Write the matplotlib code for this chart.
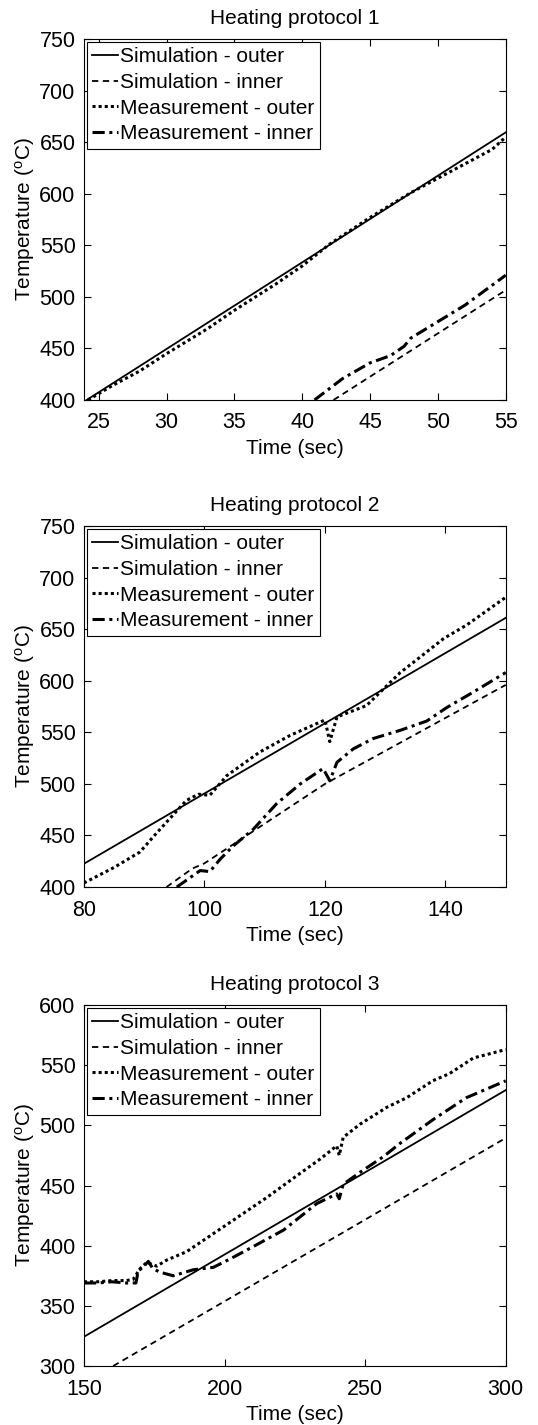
import numpy as np
import matplotlib.pyplot as plt

plt.rcParams['font.family'] = ['Liberation Sans', 'DejaVu Sans']
plt.rcParams['mathtext.default'] = 'regular'

# ---- protocol 1 ----
p1_sim_out_t = [24.1, 55]
p1_sim_out_T = [400, 659.5]
p1_sim_in_t = [42.3, 55]
p1_sim_in_T = [400, 506.5]
p1_meas_out_t = [24.2, 26, 28, 30, 33, 35, 38, 40, 42, 45, 48, 50, 52, 54, 55]
p1_meas_out_T = [400, 414, 428, 445, 469, 487, 512, 530, 551, 577, 601, 615, 629, 643, 655]
p1_meas_in_t = [40.9, 43, 45, 46.5, 47.5, 48, 50, 52, 55]
p1_meas_in_T = [400, 421, 436, 443, 452, 460, 476, 492, 521]

# ---- protocol 2 ----
p2_sim_out_t = [80, 150]
p2_sim_out_T = [422.6, 661]
p2_sim_in_t = [93.7, 98, 100, 120, 150]
p2_sim_in_T = [400, 418, 423, 500, 596]
p2_meas_out_t = [80, 85, 89.3, 92, 97, 99, 100.9, 103.7, 109.2, 114.2, 119.2, 120, 120.8, 122,
                 126.9, 129.7, 132.5, 135.8, 139.7, 143.5, 150]
p2_meas_out_T = [404, 419, 434, 452, 484, 490, 489, 508, 531, 547, 560, 562, 541, 565,
                 576, 592, 608, 623, 641, 654, 681]
p2_meas_in_t = [95.4, 99.3, 100.9, 102.6, 104.8, 108.1, 112, 115.9, 119.7, 120.8, 122,
                124.7, 128, 132.5, 136.9, 140.2, 144.6, 150]
p2_meas_in_T = [400, 416, 415, 427, 440, 456, 481, 500, 515, 503, 521,
                534, 544, 552, 561, 574, 589, 608]

# ---- protocol 3 ----
p3_sim_out_t = [150, 300]
p3_sim_out_T = [324.3, 529.3]
p3_sim_in_t = [160.4, 300]
p3_sim_in_T = [300, 489.5]
p3_meas_out_t = [150, 155, 160, 165, 167.5, 170, 172.3, 175.9, 179.4, 186.5, 196, 203, 215, 226.8,
                 234, 239.9, 240.8, 242.2, 248.2, 257.7, 264.8, 274, 280, 288.5, 300]
p3_meas_out_T = [370, 370, 371, 371, 372, 381, 386, 383, 388, 395, 410, 421, 440, 460,
                 472, 483, 475, 490, 501, 515, 523, 537, 543, 556, 563]
p3_meas_in_t = [150, 155, 160, 165, 168.5, 169.3, 171, 172.9, 174.5, 177, 181.8, 188.9, 196,
                202, 210, 221, 232.8, 239.9, 240.8, 242.2, 248.2, 256.5, 262.4, 274.3, 286, 300]
p3_meas_in_T = [369, 369, 370, 369, 369, 379, 382, 387, 381, 378, 375, 380, 382,
                389, 399, 413, 435, 443, 439, 451, 461, 474, 485, 505, 523, 537]

panels = [
    dict(title='Heating protocol 1', xlim=(23.9, 55), ylim=(400, 750),
         xticks=np.arange(25, 56, 5), yticks=np.arange(400, 751, 50),
         data=[(p1_sim_out_t, p1_sim_out_T), (p1_sim_in_t, p1_sim_in_T),
               (p1_meas_out_t, p1_meas_out_T), (p1_meas_in_t, p1_meas_in_T)]),
    dict(title='Heating protocol 2', xlim=(80, 150), ylim=(400, 750),
         xticks=np.arange(80, 141, 20), yticks=np.arange(400, 751, 50),
         data=[(p2_sim_out_t, p2_sim_out_T), (p2_sim_in_t, p2_sim_in_T),
               (p2_meas_out_t, p2_meas_out_T), (p2_meas_in_t, p2_meas_in_T)]),
    dict(title='Heating protocol 3', xlim=(150, 300), ylim=(300, 600),
         xticks=np.arange(150, 301, 50), yticks=np.arange(300, 601, 50),
         data=[(p3_sim_out_t, p3_sim_out_T), (p3_sim_in_t, p3_sim_in_T),
               (p3_meas_out_t, p3_meas_out_T), (p3_meas_in_t, p3_meas_in_T)]),
]

labels = ['Simulation - outer', 'Simulation - inner', 'Measurement - outer', 'Measurement - inner']
styles = [dict(ls='-', lw=1.3), dict(ls=(0, (3.5, 2.5)), lw=1.3),
          dict(ls=(0, (1, 1)), lw=2.2), dict(ls=(0, (4, 1.5, 1, 1.5)), lw=2.2)]

fig = plt.figure(figsize=(5.38, 14.25), dpi=100)
bottoms = [0.7193, 0.3775, 0.0414]

for p, b in zip(panels, bottoms):
    ax = fig.add_axes([0.156, b, 0.784, 0.2533])
    for (t, T), lab, st in zip(p['data'], labels, styles):
        ax.plot(t, T, color='black', label=lab, **st)
    ax.set_xlim(p['xlim'])
    ax.set_ylim(p['ylim'])
    ax.set_xticks(p['xticks'])
    ax.set_yticks(p['yticks'])
    ax.tick_params(direction='in', top=True, right=True, labelsize=15.5, length=5, width=0.8)
    ax.tick_params(axis='y', pad=6)
    ax.tick_params(axis='x', pad=9)
    ax.set_title(p['title'], fontsize=15, pad=11)
    ax.set_xlabel('Time (sec)', fontsize=15, labelpad=4)
    ax.set_ylabel(r'Temperature ($^{o}$C)', fontsize=15, labelpad=2)
    leg = ax.legend(loc='upper left', fontsize=15, frameon=True, fancybox=False,
                    edgecolor='black', framealpha=1, handlelength=1.25, handletextpad=0.1,
                    borderpad=0.25, labelspacing=0.32, borderaxespad=0.15)
    leg.get_frame().set_linewidth(0.8)

fig.savefig('out.png', dpi=100)
